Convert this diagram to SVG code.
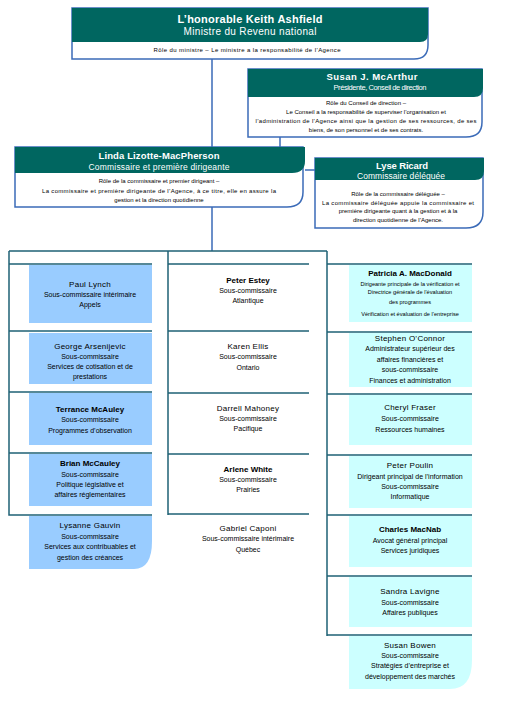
<svg xmlns="http://www.w3.org/2000/svg" width="509" height="716" viewBox="0 0 509 716">
<style>
text{font-family:"Liberation Sans",Arial,sans-serif;text-anchor:middle;fill:#000}
.hd{fill:#006660}
.bx{fill:#fff;stroke:#3b6bb8;stroke-width:1.5}
.ht{fill:#fff;font-weight:bold}
.hs{fill:#fff}
.r{font-size:6px}
.nb{font-size:8px;font-weight:bold}
.nm{font-size:8px;letter-spacing:0.25px}
.t{font-size:7px}
.ts{font-size:5.6px}
.fr{fill:none;stroke:#1f6176;stroke-width:1.5}
.cn{fill:none;stroke:#3b6bb8;stroke-width:1.5}
.lb{fill:#99ccff}
.cy{fill:#ccffff}
</style>
<rect width="509" height="716" fill="#fff"/>
<g id="connectors">
<path class="cn" d="M212,59 V147 M280,137 V147 M305,170 H315 M212,207 V251"/>
<path class="fr" d="M9,251 H327 M9,251 V515 H152 M168,251 V515 M327,251 V636"/>
<path class="fr" d="M9,264 H152 M9,331 H152 M9,392 H152 M9,453 H152"/>
<path class="fr" d="M168,264 H309 M168,331 H309 M168,393 H309 M168,454 H309 M168,514 H309"/>
<path class="fr" d="M327,264 H472 M327,332 H472 M327,394 H472 M327,455 H472 M327,515 H472 M327,576 H472 M327,635 H472"/>
</g>
<g id="ministre">
<path class="bx" d="M72,8 H428 V45 Q428,59 414,59 H72 Z"/>
<path class="hd" d="M72,8 H428 V34 Q428,42 420,42 H72 Z"/>
<text class="ht" x="250" y="23" font-size="11" textLength="145">L’honorable Keith Ashfield</text>
<text class="hs" x="250" y="35" font-size="10" textLength="133">Ministre du Revenu national</text>
<text class="r" x="247" y="51.5" textLength="187">Rôle du ministre – Le ministre a la responsabilité de l’Agence</text>
</g>
<g id="mcarthur">
<path class="bx" d="M248,69 H482 V122 Q482,137 466,137 H248 Z"/>
<path class="hd" d="M248,69 H483 V88 Q483,97 474,97 H248 Z"/>
<text class="ht" x="372" y="79.5" font-size="9.5" textLength="91">Susan J. McArthur</text>
<text class="hs" x="380" y="89.5" font-size="7.5" textLength="93">Présidente, Conseil de direction</text>
<text class="r" x="366" y="105">Rôle du Conseil de direction –</text>
<text class="r" x="366" y="114">Le Conseil a la responsabilité de superviser l’organisation et</text>
<text class="r" x="366" y="123.3" textLength="221">l’administration de l’Agence ainsi que la gestion de ses ressources, de ses</text>
<text class="r" x="366" y="132">biens, de son personnel et de ses contrats.</text>
</g>
<g id="lizotte">
<path class="bx" d="M15,147 H303 V192 Q303,207 287,207 H15 Z"/>
<path class="hd" d="M15,147 H305 V161 Q305,173 292,173 H15 Z"/>
<text class="ht" x="159" y="159" font-size="9.5" textLength="121">Linda Lizotte-MacPherson</text>
<text class="hs" x="159" y="169.5" font-size="8.5" textLength="141">Commissaire et première dirigeante</text>
<text class="r" x="159" y="183">Rôle de la commissaire et premier dirigeant –</text>
<text class="r" x="159" y="192.7" textLength="234">La commissaire et première dirigeante de l’Agence, à ce titre, elle en assure la</text>
<text class="r" x="159" y="201.7">gestion et la direction quotidienne</text>
</g>
<g id="ricard">
<path class="bx" d="M315,158 H483 V212 Q483,228 466,228 H315 Z"/>
<path class="hd" d="M315,158 H484 V171 Q484,180 475,180 H315 Z"/>
<text class="ht" x="402" y="169" font-size="9.5" textLength="52">Lyse Ricard</text>
<text class="hs" x="401" y="179" font-size="8.5" textLength="88">Commissaire déléguée</text>
<text class="r" x="398" y="195.7">Rôle de la commissaire déléguée –</text>
<text class="r" x="398" y="204.5" textLength="152">La commissaire déléguée appuie la commissaire et</text>
<text class="r" x="398" y="213.3">première dirigeante quant à la gestion et à la</text>
<text class="r" x="398" y="222.3">direction quotidienne de l’Agence.</text>
</g>
<g id="lynch">
<rect class="lb" x="29" y="265" width="123" height="58"/>
<text class="nm" x="90" y="286.7">Paul Lynch</text>
<text class="t" x="90" y="296.7">Sous-commissaire intérimaire</text>
<text class="t" x="90" y="307">Appels</text>
</g>
<g id="arsenijevic">
<rect class="lb" x="29" y="333" width="123" height="51"/>
<text class="nm" x="90" y="349.3">George Arsenijevic</text>
<text class="t" x="90" y="359">Sous-commissaire</text>
<text class="t" x="90" y="369.3">Services de cotisation et de</text>
<text class="t" x="90" y="379.3">prestations</text>
</g>
<g id="mcauley">
<rect class="lb" x="29" y="393" width="123" height="52"/>
<text class="nb" x="90" y="411.7">Terrance McAuley</text>
<text class="t" x="90" y="422.3">Sous-commissaire</text>
<text class="t" x="90" y="433.3">Programmes d’observation</text>
</g>
<g id="mccauley">
<rect class="lb" x="29" y="454" width="123" height="52"/>
<text class="nb" x="90" y="466">Brian McCauley</text>
<text class="t" x="90" y="477.3">Sous-commissaire</text>
<text class="t" x="90" y="487.3">Politique législative et</text>
<text class="t" x="90" y="497.3">affaires réglementaires</text>
</g>
<g id="gauvin">
<path class="lb" d="M29,516 H152 V541 Q152,569 134,569 H29 Z"/>
<text class="nm" x="90" y="528.3">Lysanne Gauvin</text>
<text class="t" x="90" y="539">Sous-commissaire</text>
<text class="t" x="90" y="549">Services aux contribuables et</text>
<text class="t" x="90" y="560">gestion des créances</text>
</g>
<g id="estey">
<text class="nb" x="248" y="283.3">Peter Estey</text>
<text class="t" x="248" y="293.3">Sous-commissaire</text>
<text class="t" x="248" y="303.3">Atlantique</text>
</g>
<g id="ellis">
<text class="nm" x="248" y="349.3">Karen Ellis</text>
<text class="t" x="248" y="359.3">Sous-commissaire</text>
<text class="t" x="248" y="369.7">Ontario</text>
</g>
<g id="mahoney">
<text class="nm" x="248" y="411">Darrell Mahoney</text>
<text class="t" x="248" y="420.7">Sous-commissaire</text>
<text class="t" x="248" y="431">Pacifique</text>
</g>
<g id="white">
<text class="nb" x="248" y="471.7">Arlene White</text>
<text class="t" x="248" y="482">Sous-commissaire</text>
<text class="t" x="248" y="492">Prairies</text>
</g>
<g id="caponi">
<text class="nm" x="248" y="530.7">Gabriel Caponi</text>
<text class="t" x="248" y="541">Sous-commissaire intérimaire</text>
<text class="t" x="248" y="551.7">Québec</text>
</g>
<g id="macdonald">
<rect class="cy" x="349" y="265" width="123" height="57"/>
<text class="nb" x="410" y="275.7">Patricia A. MacDonald</text>
<text class="ts" x="410" y="285.7">Dirigeante principale de la vérification et</text>
<text class="ts" x="410" y="294.3">Directrice générale de l’évaluation</text>
<text class="ts" x="410" y="304">des programmes</text>
<text class="ts" x="410" y="316">Vérification et évaluation de l’entreprise</text>
</g>
<g id="oconnor">
<rect class="cy" x="349" y="333" width="123" height="54"/>
<text class="nm" x="410" y="341">Stephen O’Connor</text>
<text class="t" x="410" y="351">Administrateur supérieur des</text>
<text class="t" x="410" y="361.7">affaires financières et</text>
<text class="t" x="410" y="371.7">sous-commissaire</text>
<text class="t" x="410" y="382.7">Finances et administration</text>
</g>
<g id="fraser">
<rect class="cy" x="349" y="395" width="123" height="50"/>
<text class="nm" x="410" y="410">Cheryl Fraser</text>
<text class="t" x="410" y="420.7">Sous-commissaire</text>
<text class="t" x="410" y="431.7">Ressources humaines</text>
</g>
<g id="poulin">
<rect class="cy" x="349" y="456" width="123" height="52"/>
<text class="nm" x="410" y="468.3">Peter Poulin</text>
<text class="t" x="410" y="479">Dirigeant principal de l’information</text>
<text class="t" x="410" y="489.3">Sous-commissaire</text>
<text class="t" x="410" y="499.3">Informatique</text>
</g>
<g id="macnab">
<rect class="cy" x="349" y="516" width="123" height="51"/>
<text class="nb" x="410" y="532.3">Charles MacNab</text>
<text class="t" x="410" y="543.3">Avocat général principal</text>
<text class="t" x="410" y="553.3">Services juridiques</text>
</g>
<g id="lavigne">
<rect class="cy" x="349" y="577" width="123" height="50"/>
<text class="nm" x="410" y="594">Sandra Lavigne</text>
<text class="t" x="410" y="605">Sous-commissaire</text>
<text class="t" x="410" y="615">Affaires publiques</text>
</g>
<g id="bowen">
<path class="cy" d="M349,636 H472 V660 Q472,689 450,689 H349 Z"/>
<text class="nm" x="410" y="648.3">Susan Bowen</text>
<text class="t" x="410" y="658.3">Sous-commissaire</text>
<text class="t" x="410" y="668.3">Stratégies d’entreprise et</text>
<text class="t" x="410" y="679.3">développement des marchés</text>
</g>
</svg>
